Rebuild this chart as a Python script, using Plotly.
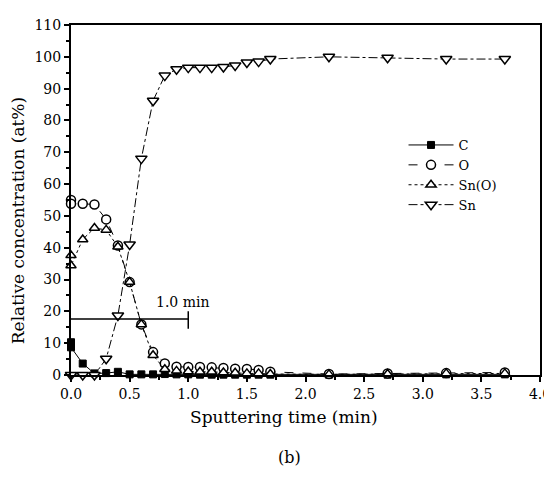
import plotly.graph_objects as go

# Data
t_main = [0.0, 0.0, 0.1, 0.2, 0.3, 0.4, 0.5, 0.6, 0.7, 0.8, 0.9, 1.0, 1.1, 1.2,
          1.3, 1.4, 1.5, 1.6, 1.7, 2.2, 2.7, 3.2, 3.7]
c_vals = [10.3, 8.7, 3.6, 0.5, 0.6, 1.0, 0.2, 0.2, 0.2, 0.3, 0.2, 0.2, 0.1, 0.1,
          0.1, 0.1, 0.1, 0.1, 0.1, 0.1, 0.1, 0.2, 0.2]
o_vals = [55.0, 53.8, 53.8, 53.6, 48.9, 40.7, 29.2, 15.9, 7.2, 3.6, 2.6, 2.5, 2.5, 2.4,
          2.2, 2.0, 1.9, 1.6, 1.0, 0.3, 0.5, 0.6, 0.8]
sno_vals = [37.6, 34.4, 42.6, 46.2, 45.6, 40.3, 29.2, 15.9, 6.2, 1.8, 1.3, 1.1, 1.0, 1.0,
            0.8, 0.7, 0.5, 0.5, 0.3, 0.2, 0.3, 0.5, 0.5]
t_sn = [0.0, 0.1, 0.2, 0.3, 0.4, 0.5, 0.6, 0.7, 0.8, 0.9, 1.0, 1.1, 1.2, 1.3,
        1.4, 1.5, 1.6, 1.7, 2.2, 2.7, 3.2, 3.7]
sn_vals = [0.0, 0.0, 0.0, 5.1, 18.7, 41.0, 68.0, 86.2, 94.1, 96.1, 96.6, 96.6, 96.6, 96.8,
           97.3, 98.2, 98.5, 99.3, 100.0, 99.7, 99.3, 99.3]

scale_bar_x = [0.0, 1.0]
scale_bar_y = [17.6, 17.6]
scale_tick_x = [1.0, 1.0]
scale_tick_y = [14.5, 20.0]

x_ticks = [0.0, 0.5, 1.0, 1.5, 2.0, 2.5, 3.0, 3.5, 4.0]
y_ticks = [0, 10, 20, 30, 40, 50, 60, 70, 80, 90, 100, 110]

FONT = "DejaVu Serif"

fig = go.Figure()

fig.add_trace(go.Scatter(x=t_main, y=c_vals, name="C", mode="lines+markers",
                         cliponaxis=False,
                         line=dict(color="black", width=1, dash="solid"),
                         marker=dict(symbol="square", size=7, color="black",
                                     line=dict(color="black", width=1))))
fig.add_trace(go.Scatter(x=t_main, y=o_vals, name="O", mode="lines+markers",
                         cliponaxis=False,
                         line=dict(color="black", width=1, dash="dash"),
                         marker=dict(symbol="circle", size=9, color="white",
                                     line=dict(color="black", width=1.5))))
fig.add_trace(go.Scatter(x=t_main, y=sno_vals, name="Sn(O)", mode="lines+markers",
                         cliponaxis=False,
                         line=dict(color="black", width=1, dash="dot"),
                         marker=dict(symbol="triangle-up", size=9, color="white",
                                     line=dict(color="black", width=1.5))))
fig.add_trace(go.Scatter(x=t_sn, y=sn_vals, name="Sn", mode="lines+markers",
                         cliponaxis=False,
                         line=dict(color="black", width=1, dash="dashdot"),
                         marker=dict(symbol="triangle-down", size=10, color="white",
                                     line=dict(color="black", width=1.5))))

# 1.0 min scale bar
fig.add_trace(go.Scatter(x=scale_bar_x, y=scale_bar_y, mode="lines", showlegend=False,
                         line=dict(color="black", width=1.5), hoverinfo="skip"))
fig.add_trace(go.Scatter(x=scale_tick_x, y=scale_tick_y, mode="lines", showlegend=False,
                         line=dict(color="black", width=1.5), hoverinfo="skip"))
fig.add_annotation(x=0.95, y=22.9, text="1.0 min", showarrow=False,
                   font=dict(family=FONT, size=14, color="black"))

# Axis titles (placed as in the reference)
fig.add_annotation(x=0.455, xref="paper", y=-0.12, yref="paper",
                   text="Sputtering time (min)", showarrow=False, yanchor="middle",
                   font=dict(family=FONT, size=17, color="black"))
fig.add_annotation(x=-0.114, xref="paper", y=0.441, yref="paper",
                   text="Relative concentration (at%)", showarrow=False,
                   textangle=-90, xanchor="center", yanchor="middle",
                   font=dict(family=FONT, size=17, color="black"))

fig.add_annotation(x=0.466, xref="paper", y=-0.235, yref="paper", text="(b)",
                   showarrow=False, yanchor="middle",
                   font=dict(family=FONT, size=16, color="black"))

fig.update_layout(
    width=552, height=480,
    margin=dict(l=63, r=19, t=9, b=113),
    paper_bgcolor="white", plot_bgcolor="white",
    font=dict(family=FONT, size=14, color="black"),
    legend=dict(x=0.709, y=0.70, xanchor="left", yanchor="top",
                bgcolor="rgba(0,0,0,0)", font=dict(family=FONT, size=13),
                tracegroupgap=0, itemsizing="trace", itemwidth=45),
    xaxis=dict(range=[0, 4.0], tickvals=x_ticks,
               ticktext=[f"{v:.1f}" for v in x_ticks],
               showgrid=False, zeroline=False, showline=True, linecolor="black",
               linewidth=2, mirror=True, ticks="outside", ticklen=5, tickwidth=1.5,
               tickcolor="black",
               minor=dict(dtick=0.25, ticks="outside", ticklen=3, tickcolor="black")),
    yaxis=dict(range=[0, 110], tickvals=y_ticks,
               showgrid=False, zeroline=False, showline=True, linecolor="black",
               linewidth=2, mirror=True, ticks="outside", ticklen=5, tickwidth=1.5,
               tickcolor="black",
               minor=dict(dtick=5, ticks="outside", ticklen=3, tickcolor="black")),
)

fig.write_html("out.html")
